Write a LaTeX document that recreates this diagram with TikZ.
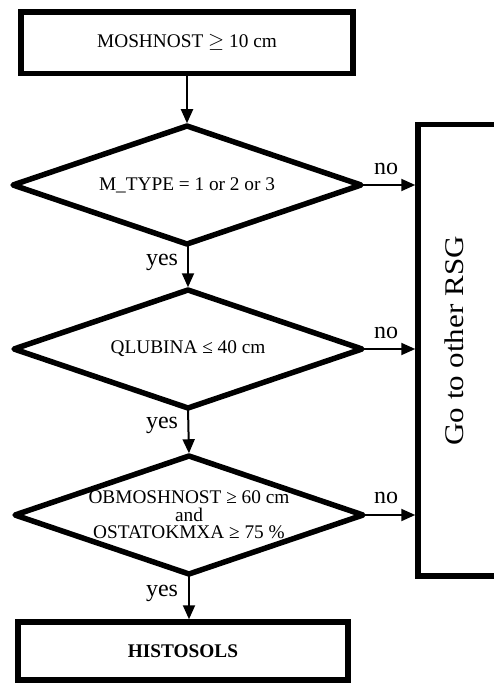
\documentclass[tikz,border=0pt]{standalone}
\usepackage{fontspec}
\setmainfont{Liberation Serif}
\usetikzlibrary{arrows.meta,shapes.geometric}

\tikzset{
  boxtext/.style={font=\fontsize{19.3}{17.5}\selectfont, align=center},
  procbox/.style={draw, rectangle, line width=5.5pt, inner sep=0pt, boxtext},
  decision/.style={draw, diamond, shape aspect=2.95, line width=5.5pt,
    line join=round, inner sep=0pt, outer sep=0pt,
    minimum width=348pt, minimum height=118pt, boxtext},
  arr/.style={line width=2pt, -{Triangle[length=14pt,width=12pt]}},
  todiamond/.style={arr, shorten >=2.75pt},
  answer/.style={font=\fontsize{24}{24}\selectfont, inner sep=0pt}
}

\begin{document}
\begin{tikzpicture}[x=1pt,y=-1pt]
  \useasboundingbox (0,0) rectangle (494,684);

  % start and end boxes
  \node[procbox, minimum width=332pt, minimum height=61.5pt] (start) at (187,42.75)
    {MOSHNOST $\geq$ 10 cm};
  \node[procbox, minimum width=330pt, minimum height=58pt] (histo) at (183,651)
    {\textbf{HISTOSOLS}};

  % decisions
  \node[decision] (d1) at (187,185) {M\_TYPE = 1 or 2 or 3};
  \node[decision] (d2) at (188,349) {QLUBINA ≤ 40 cm};
  \node[decision] (d3) at (189,515)
    {OBMOSHNOST ≥ 60 cm\\and\\OSTATOKMXA ≥ 75 \%};

  % exit box, running off the right edge
  \node[draw, rectangle, line width=5.5pt, inner sep=0pt,
        minimum width=82pt, minimum height=451.5pt] (rsg) at (459,350.25) {};
  \node[rotate=90, font=\fontsize{31}{31}\selectfont, inner sep=0pt] (rsgtext) at (454,341)
    {\scalebox{1}[0.87]{Go to other RSG}};

  % main flow
  \draw[todiamond] (start.south) -- (d1.north);
  \draw[todiamond] (d1.south) -- (d1.south -| d2.north) -- (d2.north);
  \draw[todiamond] (d2.south) -- (d3.north);
  \draw[arr] (d3.south) -- (d3.south |- histo.north);

  % exits
  \draw[arr] (d1.east) -- (d1.east -| rsg.west);
  \draw[arr] (d2.east) -- (d2.east -| rsg.west);
  \draw[arr] (d3.east) -- (d3.east -| rsg.west);

  % answer labels
  \node[answer] (no1) at (386,169) {no};
  \node[answer] (no2) at (386,333) {no};
  \node[answer] (no3) at (386,498) {no};
  \node[answer] (yes1) at (162,262) {yes};
  \node[answer] (yes2) at (162,425) {yes};
  \node[answer] (yes3) at (162,593) {yes};
\end{tikzpicture}
\end{document}
